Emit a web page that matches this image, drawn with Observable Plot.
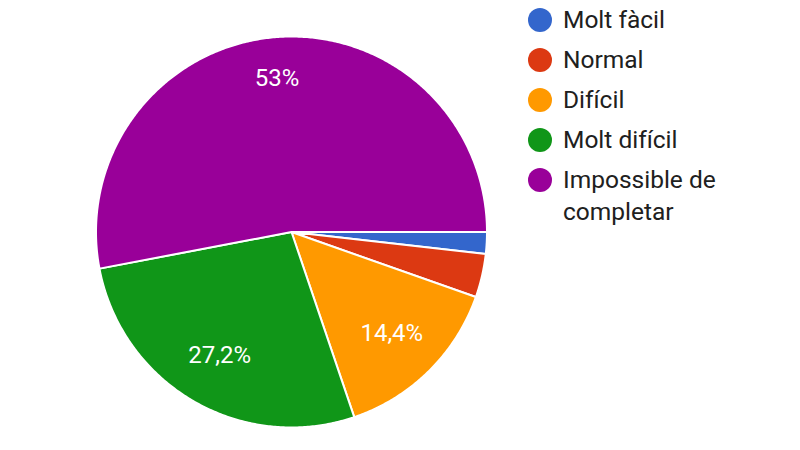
<!DOCTYPE html>
<html>
<head>
<meta charset="utf-8">
<script src="https://cdn.jsdelivr.net/npm/d3@7"></script>
<script src="https://cdn.jsdelivr.net/npm/@observablehq/plot@0.6"></script>
<style>
  html, body { margin: 0; padding: 0; background: #fff; }
  #wrap { position: relative; width: 800px; height: 450px; overflow: hidden; font-family: Roboto, "Noto Sans", sans-serif; }
  #legend { position: absolute; left: 528px; top: 4px; width: 240px; }
  .item { display: flex; align-items: flex-start; margin-bottom: 8px; }
  .sw { width: 24px; height: 24px; border-radius: 50%; flex: none; margin-top: 4px; margin-right: 11px; }
  .lbl { font-size: 24.5px; line-height: 32px; color: #202020; max-width: 190px; }
</style>
</head>
<body>
<div id="wrap"><div id="chart"></div><div id="legend"></div></div>
<script>
const categories = ["Molt fàcil", "Normal", "Difícil", "Molt difícil", "Impossible de completar"];
const values = [1.8, 3.6, 14.4, 27.2, 53];
const colors = ["#3366cc", "#dc3912", "#ff9900", "#109618", "#990099"];

const total = d3.sum(values);
const rows = [];
const labelRows = [];
let cum = 0;
values.forEach((v, i) => {
  const a0 = cum / total * 2 * Math.PI;
  const a1 = (cum + v) / total * 2 * Math.PI;
  cum += v;
  // clockwise from 3 o'clock on screen (y up in data => negate sin)
  rows.push({cat: categories[i], x: 0, y: 0});
  const n = Math.max(2, Math.ceil((a1 - a0) / (Math.PI / 360)));
  for (let k = 0; k <= n; k++) {
    const a = a0 + (a1 - a0) * k / n;
    rows.push({cat: categories[i], x: Math.cos(a), y: -Math.sin(a)});
  }
  rows.push({cat: categories[i], x: 0, y: 0});
  if (v / total >= 0.1) {
    const am = (a0 + a1) / 2;
    const r = v / total > 0.5 ? 0.79 : 0.73;
    labelRows.push({x: r * Math.cos(am), y: -r * Math.sin(am), text: String(v).replace(".", ",") + "%"});
  }
});

const chart = Plot.plot({
  width: 800,
  height: 450,
  marginLeft: 95.5,
  marginRight: 313.5,
  marginTop: 36,
  marginBottom: 23,
  x: {domain: [-1, 1], axis: null},
  y: {domain: [-1, 1], axis: null},
  color: {domain: categories, range: colors},
  style: {fontFamily: "Roboto, sans-serif", background: "white"},
  marks: [
    Plot.line(rows, {x: "x", y: "y", z: "cat", fill: "cat", stroke: "white", strokeWidth: 2, strokeLinejoin: "round", curve: "linear"}),
    Plot.text(labelRows, {x: "x", y: "y", text: "text", fill: "white", fontSize: 24, fontFamily: "Roboto, sans-serif"})
  ]
});
document.getElementById("chart").appendChild(chart);

const legend = document.getElementById("legend");
categories.forEach((c, i) => {
  const item = document.createElement("div");
  item.className = "item";
  const sw = document.createElement("div");
  sw.className = "sw";
  sw.style.background = colors[i];
  const lbl = document.createElement("div");
  lbl.className = "lbl";
  lbl.textContent = c;
  item.appendChild(sw);
  item.appendChild(lbl);
  legend.appendChild(item);
});
</script>
</body>
</html>
